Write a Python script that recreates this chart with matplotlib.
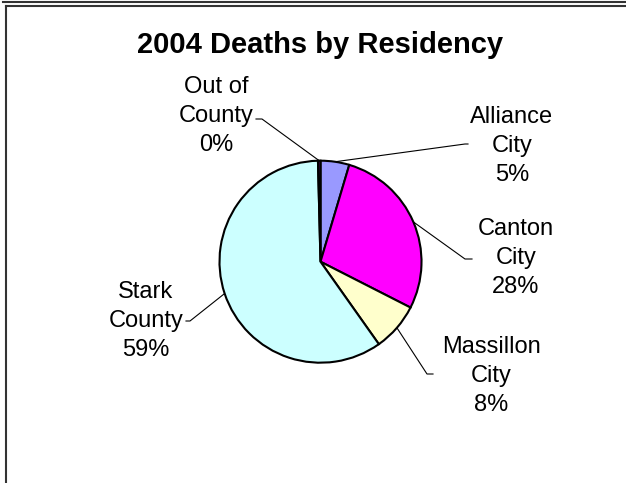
import matplotlib.pyplot as plt
import numpy as np
from matplotlib.lines import Line2D

plt.rcParams['font.family'] = ['Liberation Sans', 'DejaVu Sans']

# data, clockwise from 12 o'clock
names = ['Alliance\nCity', 'Canton\nCity', 'Massillon\nCity', 'Stark\nCounty', 'Out of\nCounty']
shares = [4.6, 27.9, 7.7, 59.4, 0.4]
colors = ['#9999FF', '#FF00FF', '#FFFFCC', '#CCFFFF', '#660066']

W, H = 626, 483
cx, cy, R = 320.5, 261.7, 101

# label centres and leader bend / tail points (pixels, y measured from top)
label_xy = [(512, 146), (516, 258), (491, 376), (146, 321), (216, 116)]
bend_xy = [(465, 144), (465, 259), (427, 374), (190, 321), (262, 119)]
tail_xy = [(468, 144), (472, 259), (433, 374), (186, 321), (256, 119)]

fig = plt.figure(figsize=(W / 100, H / 100), dpi=100)
ax = fig.add_axes([0, 0, 1, 1])

wedges, _ = ax.pie(shares, colors=colors, startangle=90, counterclock=False,
                   center=(cx, H - cy), radius=R,
                   wedgeprops=dict(edgecolor='black', linewidth=1.5))

for w, name, v, (lx, ly), (bx, by), (tx, ty) in zip(wedges, names, shares, label_xy, bend_xy, tail_xy):
    mid = np.deg2rad((w.theta1 + w.theta2) / 2)
    px, py = cx + R * np.cos(mid), (H - cy) + R * np.sin(mid)
    ax.plot([px, bx, tx], [py, H - by, H - ty], color='black', lw=0.8, zorder=0.5)
    ax.text(lx, H - ly, f'{name}\n{round(v)}%', ha='center', va='center',
            fontsize=17, linespacing=1.4)

ax.text(320, H - 53, '2004 Deaths by Residency', ha='center', va='baseline',
        fontsize=21, fontweight='bold')

ax.set_xlim(0, W)
ax.set_ylim(0, H)
ax.set_aspect('equal')
ax.axis('off')

# frame lines like the original screenshot
for xs, ys in [([3 / W, 1], [1 - 1.5 / H] * 2),
               ([5.5 / W, 1], [1 - 6 / H] * 2),
               ([5.5 / W] * 2, [1 - 6 / H, 0])]:
    fig.add_artist(Line2D(xs, ys, color='#333333', lw=1.5))

fig.savefig('out.png', dpi=100)
